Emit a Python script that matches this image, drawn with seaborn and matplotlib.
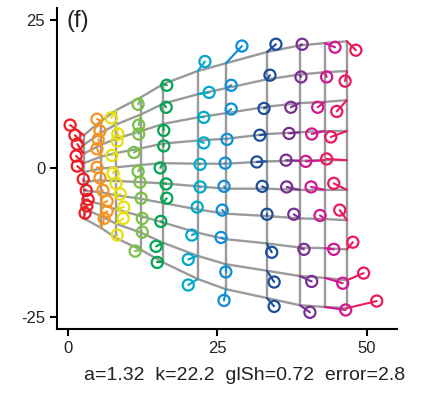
import matplotlib
matplotlib.use("Agg")
import matplotlib.pyplot as plt
import pandas as pd
import seaborn as sns

# Grid columns (x) and node heights in each column, top row first
grid_x = [2.6, 5.5, 8.0, 12.2, 15.9, 21.7, 26.4, 33.3, 38.8, 43.0, 46.7]
grid_y = [
    [5.6, 4.0, 2.5, 0.9, -0.6, -2.2, -3.7, -5.3, -6.8, -8.4],
    [8.0, 6.0, 4.0, 2.0, 0.0, -2.0, -4.0, -6.0, -8.0, -10.0],
    [9.8, 7.4, 5.0, 2.6, 0.2, -2.1, -4.5, -6.9, -9.3, -11.7],
    [12.0, 9.1, 6.3, 3.4, 0.6, -2.3, -5.1, -8.0, -10.8, -13.7],
    [14.2, 10.9, 7.5, 4.2, 0.9, -2.5, -5.8, -9.1, -12.5, -15.8],
    [16.4, 12.5, 8.6, 4.7, 0.8, -3.0, -6.9, -10.8, -14.7, -18.6],
    [17.7, 13.5, 9.3, 5.0, 0.8, -3.4, -7.6, -11.9, -16.1, -20.3],
    [19.6, 15.0, 10.4, 5.8, 1.2, -3.4, -8.0, -12.6, -17.2, -21.8],
    [20.7, 15.8, 11.0, 6.1, 1.3, -3.6, -8.4, -13.3, -18.1, -23.0],
    [21.1, 16.2, 11.2, 6.3, 1.4, -3.6, -8.5, -13.4, -18.4, -23.3],
    [21.4, 16.4, 11.5, 6.3, 1.4, -3.6, -8.7, -13.6, -18.8, -23.5],
]

# Measured positions belonging to each grid node
obs_x = [
    [0.3, 1.1, 1.5, 1.3, 1.5, 2.5, 3.0, 3.3, 3.1, 2.8],
    [4.8, 5.3, 5.0, 4.8, 4.8, 5.3, 5.8, 6.5, 6.5, 6.0],
    [7.2, 8.3, 8.2, 7.3, 7.5, 8.0, 8.7, 9.3, 9.2, 8.2],
    [11.7, 11.8, 11.8, 11.0, 11.7, 12.0, 12.2, 12.4, 12.4, 11.2],
    [16.5, 16.4, 16.0, 16.0, 15.4, 16.4, 16.5, 15.5, 14.7, 14.9],
    [22.9, 23.6, 22.7, 22.7, 22.1, 22.1, 21.6, 20.7, 20.1, 20.1],
    [29.1, 27.3, 27.3, 26.6, 26.3, 26.1, 25.8, 25.6, 26.4, 26.1],
    [34.8, 33.8, 32.8, 32.1, 31.6, 32.5, 33.3, 34.1, 34.5, 34.5],
    [39.2, 39.0, 37.3, 37.0, 36.5, 36.6, 37.8, 39.5, 40.8, 40.5],
    [44.7, 43.3, 41.8, 40.8, 39.8, 40.7, 42.2, 44.5, 46.0, 46.5],
    [48.2, 46.4, 45.0, 44.0, 43.3, 44.5, 45.5, 47.7, 49.5, 51.7],
]
obs_y = [
    [7.3, 5.6, 4.1, 2.1, 0.4, -1.8, -3.7, -5.2, -6.3, -7.5],
    [8.3, 6.3, 4.9, 3.3, 0.2, -1.6, -3.7, -5.5, -7.2, -8.4],
    [8.5, 5.8, 4.6, 2.2, -0.8, -2.5, -4.3, -6.5, -8.4, -11.2],
    [10.8, 7.3, 5.8, 2.7, -0.5, -2.3, -5.0, -8.4, -10.7, -13.9],
    [14.0, 10.3, 6.4, 3.8, 0.1, -2.6, -5.0, -8.9, -13.1, -15.8],
    [18.0, 12.8, 8.6, 4.3, 0.7, -3.1, -6.5, -11.2, -15.3, -19.6],
    [20.6, 14.0, 10.0, 4.9, 0.9, -3.0, -7.0, -11.6, -17.4, -22.2],
    [20.9, 15.7, 10.1, 5.6, 1.1, -3.0, -7.7, -14.1, -19.1, -23.2],
    [20.9, 15.4, 10.3, 5.9, 1.4, -3.1, -7.7, -13.6, -19.0, -24.2],
    [20.4, 15.4, 10.3, 5.8, 1.2, -3.1, -7.9, -13.6, -19.3, -23.8],
    [19.9, 14.7, 9.6, 5.3, 1.6, -2.5, -7.0, -12.4, -17.6, -22.3],
]

col_colors = ["#ED1C24", "#F7941D", "#E6E00C", "#7AC143", "#00A651",
              "#00AAC6", "#0D8ED6", "#1B4F9C", "#7A2E92", "#D0188F", "#EB1A5B"]

panel_label = "(f)"
fit_text = "a=1.32  k=22.2  glSh=0.72  error=2.8"
x_ticks = [0, 25, 50]
y_ticks = [-25, 0, 25]

# ---- long-form tables ----
nodes, segs, points = [], [], []
for c, gx in enumerate(grid_x):
    name = f"c{c}"
    for r in range(len(grid_y[c])):
        gy = grid_y[c][r]
        nodes.append(dict(col=name, row=r, x=gx, y=gy))
        sid = f"{c}-{r}"
        segs.append(dict(col=name, seg=sid, x=gx, y=gy))
        segs.append(dict(col=name, seg=sid, x=obs_x[c][r], y=obs_y[c][r]))
        points.append(dict(col=name, x=obs_x[c][r], y=obs_y[c][r]))
nodes = pd.DataFrame(nodes)
segs = pd.DataFrame(segs)
points = pd.DataFrame(points)
palette = {f"c{i}": col for i, col in enumerate(col_colors)}

sns.set_style("ticks")
plt.rcParams["font.family"] = ["Liberation Sans", "DejaVu Sans"]
plt.rcParams["axes.unicode_minus"] = False

fig = plt.figure(figsize=(4.28, 3.94), dpi=100)
ax = fig.add_axes([0.1332, 0.165, 0.7944, 0.8147])

grey = "#9A9A9A"
# horizontal grid curves
sns.lineplot(data=nodes, x="x", y="y", units="row", estimator=None, sort=False,
             color=grey, lw=1.7, ax=ax, zorder=1)
# vertical grid lines
sns.lineplot(data=nodes, x="x", y="y", units="col", estimator=None, sort=False,
             color=grey, lw=1.7, ax=ax, zorder=1)
# node-to-measurement links
sns.lineplot(data=segs, x="x", y="y", hue="col", units="seg", estimator=None,
             sort=False, palette=palette, lw=1.5, legend=False, ax=ax, zorder=2)
# measured positions as open circles
sns.scatterplot(data=points, x="x", y="y", hue="col", palette=palette, s=64,
                linewidth=1.6, legend=False, ax=ax, zorder=3)
pts = ax.collections[-1]
pts.set_edgecolors(pts.get_facecolors())
pts.set_facecolors("none")

ax.set_xlim(-1.9, 55.1)
ax.set_ylim(-27.0, 27.0)
ax.set_xticks(x_ticks)
ax.set_yticks(y_ticks)
ax.set_xlabel("")
ax.set_ylabel("")
sns.despine(ax=ax)
for s in ("left", "bottom"):
    ax.spines[s].set_linewidth(1.5)
    ax.spines[s].set_color("black")
ax.tick_params(axis="both", length=5, width=1.5, pad=3.5, labelsize=12,
               color="black", labelcolor="#222222")

fig.text(67 / 428, 1 - 21 / 394, panel_label, fontsize=17, ha="left", va="center",
         color="#222222")
fig.text(244.5 / 428, 1 - 376 / 394, fit_text, fontsize=14, ha="center", va="center",
         color="#222222")

fig.savefig("out.png", dpi=100)
